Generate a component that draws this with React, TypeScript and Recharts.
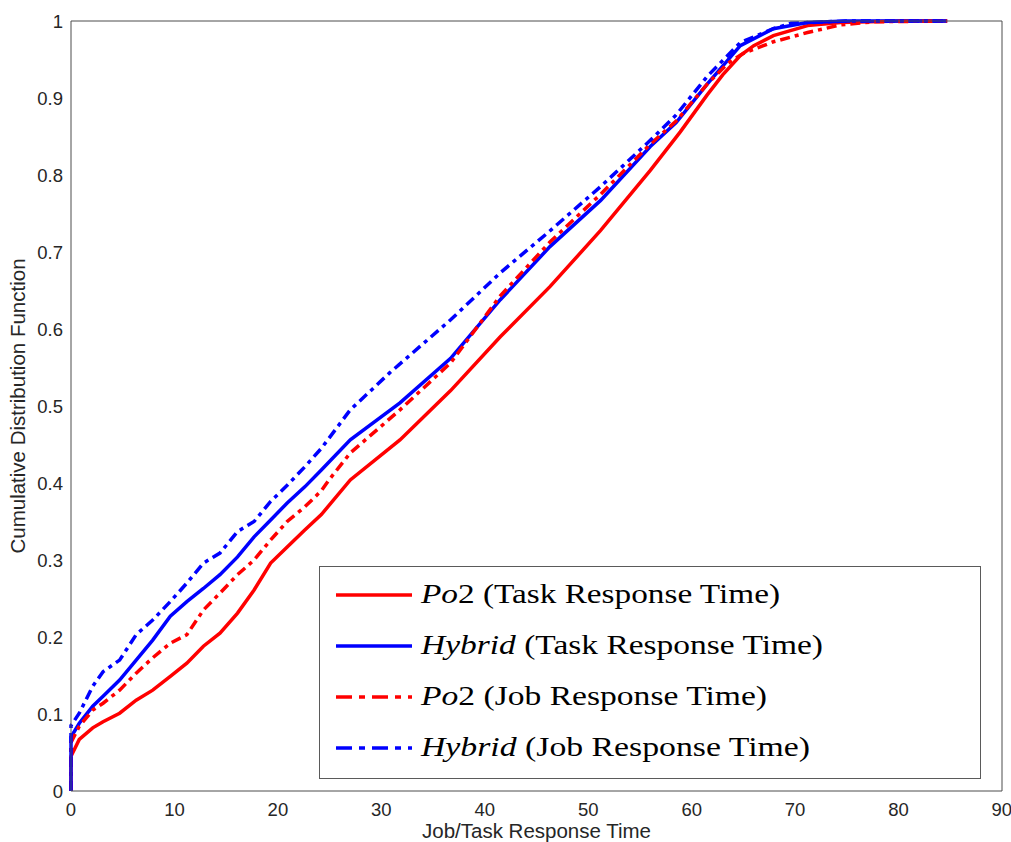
import { LineChart, Line, XAxis, YAxis, Legend } from 'recharts'

const xTicks = [0, 10, 20, 30, 40, 50, 60, 70, 80, 90]
const yTicks = [0, 0.1, 0.2, 0.3, 0.4, 0.5, 0.6, 0.7, 0.8, 0.9, 1]

// Po2, task response time (red solid)
const po2TaskT = [0, 0, 0.8, 2.1, 3.1, 4.7, 6.3, 7.9, 9.6, 11.2, 12.8, 14.4, 16.1, 17.7, 19.3, 20.9, 22.6, 24.2, 27, 31.8, 36.7, 41.5, 46.3, 51.2, 56, 58.9, 61.5, 63, 64.7, 66, 67.9, 71.2, 74.4, 80, 84.7]
const po2TaskP = [0, 0.045, 0.067, 0.082, 0.09, 0.101, 0.118, 0.131, 0.149, 0.166, 0.188, 0.205, 0.231, 0.261, 0.296, 0.317, 0.339, 0.359, 0.404, 0.456, 0.52, 0.59, 0.655, 0.728, 0.806, 0.856, 0.904, 0.93, 0.955, 0.968, 0.981, 0.994, 0.998, 1, 1]

// Hybrid, task response time (blue solid)
const hybTaskT = [0, 0, 0.8, 2.1, 3.1, 4.7, 6.3, 7.9, 9.6, 11.2, 12.8, 14.4, 16.1, 17.7, 19.3, 20.9, 22.6, 24.2, 27, 31.8, 36.7, 41.5, 46.3, 51.2, 56, 58.5, 61.5, 64.7, 67.9, 71.2, 75, 84.7]
const hybTaskP = [0, 0.07, 0.088, 0.11, 0.123, 0.144, 0.17, 0.196, 0.227, 0.246, 0.263, 0.281, 0.304, 0.33, 0.352, 0.374, 0.395, 0.417, 0.456, 0.504, 0.562, 0.638, 0.707, 0.767, 0.837, 0.868, 0.918, 0.968, 0.99, 0.998, 1, 1]

// Po2, job response time (red dash-dot)
const po2JobT = [0, 0, 0.8, 2.1, 3.1, 4.7, 6.3, 7.9, 9.6, 11.2, 12.8, 14.4, 16.1, 17.7, 19.3, 20.9, 22.6, 24.2, 25, 27, 31.8, 36.7, 41.5, 46.3, 51.2, 56, 58.5, 61.5, 63.5, 65, 67.9, 71.2, 74.4, 77.6, 84.7]
const po2JobP = [0, 0.063, 0.084, 0.105, 0.114, 0.131, 0.153, 0.173, 0.192, 0.203, 0.235, 0.257, 0.281, 0.3, 0.326, 0.35, 0.369, 0.39, 0.405, 0.439, 0.495, 0.556, 0.643, 0.713, 0.775, 0.84, 0.87, 0.918, 0.945, 0.958, 0.973, 0.985, 0.995, 0.999, 1]

// Hybrid, job response time (blue dash-dot)
const hybJobT = [0, 0, 0.8, 2.1, 3.1, 4.7, 6.3, 7.9, 9.6, 11.2, 12.8, 14.4, 16.1, 17.7, 19.3, 20.9, 22.6, 24.2, 27, 30.8, 36.7, 41.5, 46, 51.2, 56, 58.5, 61.5, 64.7, 67.9, 69.6, 75, 84.7]
const hybJobP = [0, 0.085, 0.101, 0.136, 0.155, 0.17, 0.203, 0.222, 0.246, 0.27, 0.296, 0.309, 0.337, 0.35, 0.376, 0.397, 0.421, 0.445, 0.495, 0.543, 0.612, 0.673, 0.724, 0.785, 0.845, 0.878, 0.928, 0.972, 0.99, 0.997, 1, 1]

const toPoints = (t: number[], p: number[]) => t.map((x, i) => ({ t: x, p: p[i] }))

const series = [
  { key: 'po2Task', name: 'Po', sub: '2', rest: ' (Task Response Time)', color: '#ff0000', dash: undefined, legendDash: undefined, len: 359, data: toPoints(po2TaskT, po2TaskP) },
  { key: 'hybTask', name: 'Hybrid', sub: '', rest: ' (Task Response Time)', color: '#0000ff', dash: undefined, legendDash: undefined, len: 402, data: toPoints(hybTaskT, hybTaskP) },
  { key: 'po2Job', name: 'Po', sub: '2', rest: ' (Job Response Time)', color: '#ff0000', dash: '10 5 4 5', legendDash: '16 7 6 7', len: 346, data: toPoints(po2JobT, po2JobP) },
  { key: 'hybJob', name: 'Hybrid', sub: '', rest: ' (Job Response Time)', color: '#0000ff', dash: '10 5 4 5', legendDash: '16 7 6 7', len: 389, data: toPoints(hybJobT, hybJobP) },
]

const sansFont = "'Liberation Sans', Arial, sans-serif"
const serifFont = "'Liberation Serif', 'DejaVu Serif', serif"
const tickFont = { fontFamily: sansFont, fontSize: 18.5, fill: '#262626' }
const axisColor = '#4d4d4d'

function BoxLegend() {
  return (
    <div
      style={{
        width: 662,
        height: 213,
        boxSizing: 'border-box',
        border: '1px solid #5a5a5a',
        background: '#fff',
      }}
    >
      <svg width={660} height={211} style={{ display: 'block' }}>
        {series.map((s, i) => {
          const y = 28 + i * 51
          return (
            <g key={s.key}>
              <line x1={16} x2={92} y1={y} y2={y} stroke={s.color} strokeWidth={3.5} strokeDasharray={s.legendDash} />
              <text
                x={101}
                y={y + 8}
                textLength={s.len}
                lengthAdjust="spacingAndGlyphs"
                fontFamily={serifFont}
                fontSize={27}
                fill="#000"
              >
                <tspan fontStyle="italic">{s.name}</tspan>
                {s.sub ? <tspan>{s.sub}</tspan> : null}
                <tspan>{s.rest}</tspan>
              </text>
            </g>
          )
        })}
      </svg>
    </div>
  )
}

export default function App() {
  return (
    <div style={{ position: 'absolute', left: 0, top: 0, background: '#fff' }}>
      <LineChart width={1011} height={842} margin={{ top: 21, right: 9, left: 11, bottom: 1 }}>
        <XAxis
          type="number"
          dataKey="t"
          domain={[0, 90]}
          ticks={xTicks}
          tickSize={0}
          tickMargin={12}
          tickLine={false}
          axisLine={{ stroke: axisColor }}
          tick={tickFont}
          height={50}
          label={{
            value: 'Job/Task Response Time',
            position: 'insideBottom',
            offset: 3,
            style: { fontFamily: sansFont, fontSize: 20.5, fill: '#262626' },
          }}
        />
        <XAxis xAxisId="bottomTicks" type="number" domain={[0, 90]} ticks={xTicks} mirror height={1} tick={false} tickSize={10} tickLine={{ stroke: '#262626' }} axisLine={false} />
        <XAxis xAxisId="topTicks" orientation="top" type="number" domain={[0, 90]} ticks={xTicks} mirror height={1} tick={false} tickSize={10} tickLine={{ stroke: '#262626' }} axisLine={{ stroke: axisColor }} />
        <YAxis
          type="number"
          domain={[0, 1]}
          ticks={yTicks}
          tickSize={0}
          tickMargin={8}
          tickLine={false}
          axisLine={{ stroke: axisColor }}
          tick={tickFont}
          tickFormatter={(v: number) => String(v)}
          width={60}
          label={{
            value: 'Cumulative Distribution Function',
            angle: -90,
            position: 'insideLeft',
            offset: 7,
            textAnchor: 'middle',
            style: { fontFamily: sansFont, fontSize: 20.5, fill: '#262626', textAnchor: 'middle' },
          }}
        />
        <YAxis yAxisId="leftTicks" type="number" domain={[0, 1]} ticks={yTicks} mirror width={1} tick={false} tickSize={10} tickLine={{ stroke: '#262626' }} axisLine={false} />
        <YAxis yAxisId="rightTicks" orientation="right" type="number" domain={[0, 1]} ticks={yTicks} mirror width={1} tick={false} tickSize={10} tickLine={{ stroke: '#262626' }} axisLine={{ stroke: axisColor }} />
        {series.map((s) => (
          <Line
            key={s.key}
            data={s.data}
            dataKey="p"
            type="linear"
            stroke={s.color}
            strokeWidth={3.5}
            strokeDasharray={s.dash}
            dot={false}
            activeDot={false}
            isAnimationActive={false}
          />
        ))}
        <Legend
          layout="vertical"
          align="center"
          verticalAlign="middle"
          wrapperStyle={{ left: 319, top: 566, width: 662, height: 213 }}
          content={() => <BoxLegend />}
        />
      </LineChart>
    </div>
  )
}
